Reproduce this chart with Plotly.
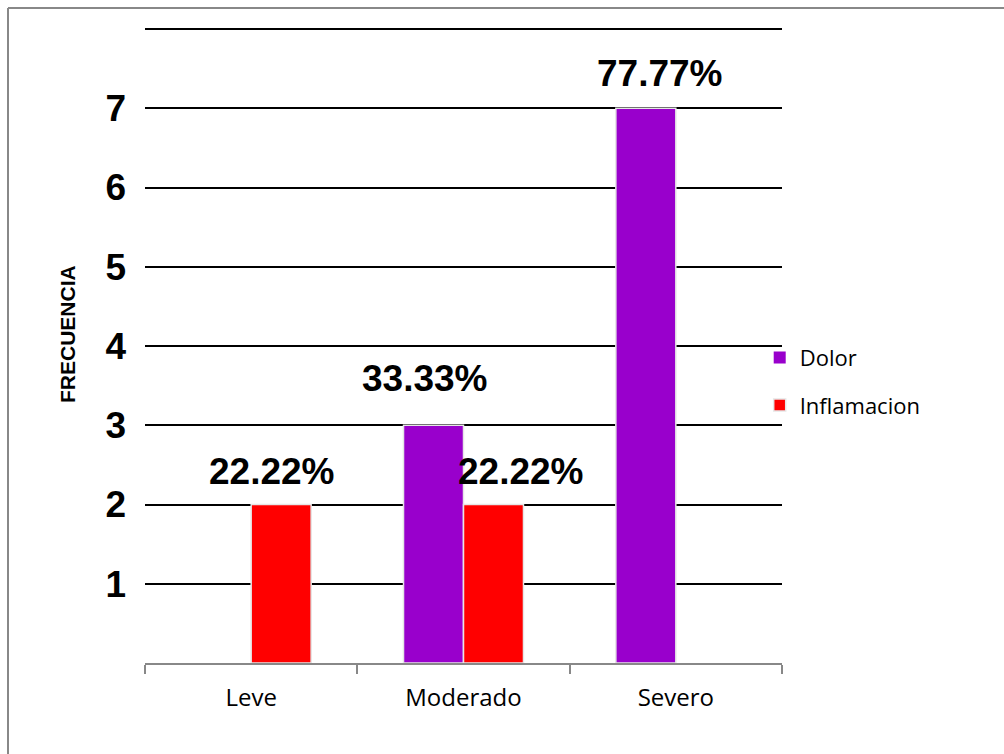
import plotly.graph_objects as go

categorias = ["Leve", "Moderado", "Severo"]
dolor = [0, 3, 7]
inflamacion = [2, 2, 0]
pct_dolor = ["", "33.33%", "77.77%"]
pct_inflamacion = ["22.22%", "22.22%", ""]
y_ticks = [1, 2, 3, 4, 5, 6, 7, 8]
y_ticktext = ["1", "2", "3", "4", "5", "6", "7", ""]
y_title = "FRECUENCIA"

PURPLE = "#9900CC"
RED = "#FF0000"
W, H = 1004, 754
L, R, T, B = 145, 222, 28, 91

# pixel offsets (x, y) of each percentage label from its category centre / bar top
off_dolor = {"Moderado": (-39, 47), "Severo": (-16, 35)}
off_infl = {"Leve": (21, 33), "Moderado": (57, 33)}


def outline_widths(values):
    # no outline on empty bars, so nothing shows along the baseline
    return [0 if v == 0 else 1.5 for v in values]


fig = go.Figure()
fig.add_trace(go.Bar(
    name="Dolor", x=categorias, y=dolor, marker_color=PURPLE,
    marker_line=dict(color="#e6e6e6", width=outline_widths(dolor)), legendgroup="a",
))
fig.add_trace(go.Bar(
    name="Inflamacion", x=categorias, y=inflamacion, marker_color=RED,
    marker_line=dict(color="#e6e6e6", width=outline_widths(inflamacion)), legendgroup="b",
))

bold = dict(family="Liberation Sans, Arial, sans-serif", size=37, color="black", weight="bold")

annots = []
for cat, val, txt in zip(categorias, dolor, pct_dolor):
    if txt:
        dx, dy = off_dolor[cat]
        annots.append(dict(x=cat, y=val, text=txt, showarrow=False, xshift=dx,
                           yshift=dy, font=bold, yanchor="middle"))
for cat, val, txt in zip(categorias, inflamacion, pct_inflamacion):
    if txt:
        dx, dy = off_infl[cat]
        annots.append(dict(x=cat, y=val, text=txt, showarrow=False, xshift=dx,
                           yshift=dy, font=bold, yanchor="middle"))

pw, ph = W - L - R, H - T - B

# Rotated y-axis title
annots.append(dict(xref="paper", yref="paper", x=(67 - L) / pw, y=(H - B - 334) / ph,
                   text=y_title, textangle=-90, showarrow=False,
                   xanchor="center", yanchor="middle",
                   font=dict(family="Liberation Sans, Arial, sans-serif", size=21,
                             color="black", weight="bold")))

# Outer frame
fx0 = (8 - L) / pw
fy1 = (H - B - 8) / ph
shapes = [
    dict(type="line", xref="paper", yref="paper", x0=fx0, x1=fx0, y0=-1, y1=fy1,
         line=dict(color="#888888", width=2)),
    dict(type="line", xref="paper", yref="paper", x0=fx0, x1=2, y0=fy1, y1=fy1,
         line=dict(color="#888888", width=2)),
]

fig.update_layout(
    width=W, height=H,
    margin=dict(l=L, r=R, t=T, b=B, pad=0),
    paper_bgcolor="white", plot_bgcolor="white",
    barmode="group", bargap=0.435, bargroupgap=0,
    annotations=annots, shapes=shapes,
    legend=dict(x=0.965, xanchor="left", y=0.443, yanchor="middle",
                font=dict(family="Open Sans, sans-serif", size=22, color="black"),
                traceorder="grouped", tracegroupgap=16, bgcolor="rgba(0,0,0,0)"),
    xaxis=dict(
        showline=True, linecolor="#888888", linewidth=2,
        ticks="outside", tickson="boundaries", ticklen=9, tickcolor="#888888", tickwidth=2,
        tickfont=dict(family="Open Sans, sans-serif", size=24, color="black"),
        ticklabelstandoff=12, showgrid=False,
    ),
    yaxis=dict(
        range=[0, 8.013], tickvals=y_ticks, ticktext=y_ticktext,
        showgrid=True, gridcolor="black", gridwidth=2, zeroline=False, showline=False,
        tickfont=bold, ticklabelstandoff=18,
    ),
)

fig.write_html("out.html")
